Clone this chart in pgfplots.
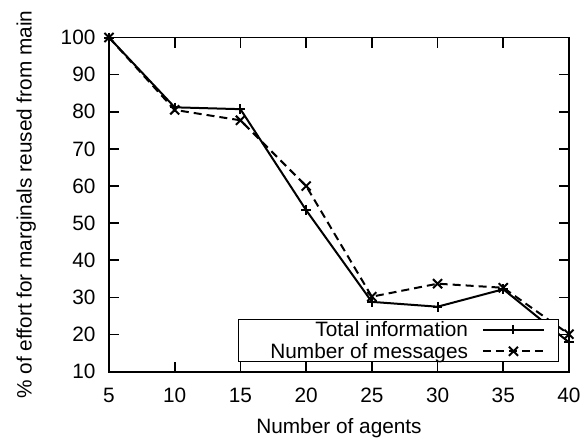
\documentclass[border=0pt]{standalone}
\usepackage{pgfplots}
\pgfplotsset{compat=1.18}
\usepackage{fontspec}
\setmainfont{Liberation Sans}
\begin{document}
\fontsize{10.4}{12.5}\selectfont
\begin{tikzpicture}
\begin{axis}[
  name=ax,
  at={(0,0)}, anchor=south west,
  scale only axis,
  width=230pt, height=167.1pt,
  xmin=5, xmax=40, ymin=10, ymax=100,
  xtick={5,10,...,40}, ytick={10,20,...,100},
  tick pos=both, tick align=inside,
  major tick length=5pt,
  axis line style={line width=0.9pt},
  every tick/.style={line width=0.8pt, black},
  /pgf/number format/assume math mode=true,
  yticklabel style={inner sep=0pt, anchor=east, xshift=-6.6pt},
  xticklabel style={inner sep=0pt, anchor=north, yshift=-8pt},
  xlabel={Number of agents},
  ylabel={\% of effort for marginals reused from main},
  xlabel style={at={(axis description cs:0.5,-0.1843)}, anchor=base, inner sep=0pt},
  ylabel style={at={(axis description cs:-0.168,0.5)}, anchor=base, inner sep=0pt},
  legend cell align=right,
  legend plot pos=right,
  legend image code/.code={%
    \draw[mark repeat=2,mark phase=2,#1] plot coordinates {(0pt,0pt)(15.35pt,0pt)(30.7pt,0pt)};
    \path (37.5pt,0pt);},
  legend style={draw=black, line width=0.6pt,
    at={(0.281,0.0281)}, anchor=south west,
    inner xsep=0pt, inner ysep=1.0pt,
    row sep=2.4pt, column sep=6.85pt,
    nodes={inner sep=0pt, text height=7.6pt, text depth=0.8pt}},
]
\addplot[black, line width=1pt, mark=+, mark size=2.4pt] coordinates {
  (5,100) (10,81.2) (15,80.7) (20,53.5) (25,28.8) (30,27.5) (35,32.2) (40,17.9)
};
\addlegendentry{\makebox[114.6pt][r]{Total information}}
\addplot[black, line width=1pt, dash pattern=on 4pt off 2.5pt, mark=x, mark size=3.2pt, mark options={solid}] coordinates {
  (5,100) (10,80.5) (15,77.7) (20,60.0) (25,30.2) (30,33.7) (35,32.6) (40,20.1)
};
\addlegendentry{\makebox[114.6pt][r]{Number of messages}}
\end{axis}
\pgfresetboundingbox
\path[use as bounding box] ([shift={(-54.5pt,-34.15pt)}]ax.south west) rectangle ([shift={(7.5pt,18.75pt)}]ax.north east);
\end{tikzpicture}
\end{document}
